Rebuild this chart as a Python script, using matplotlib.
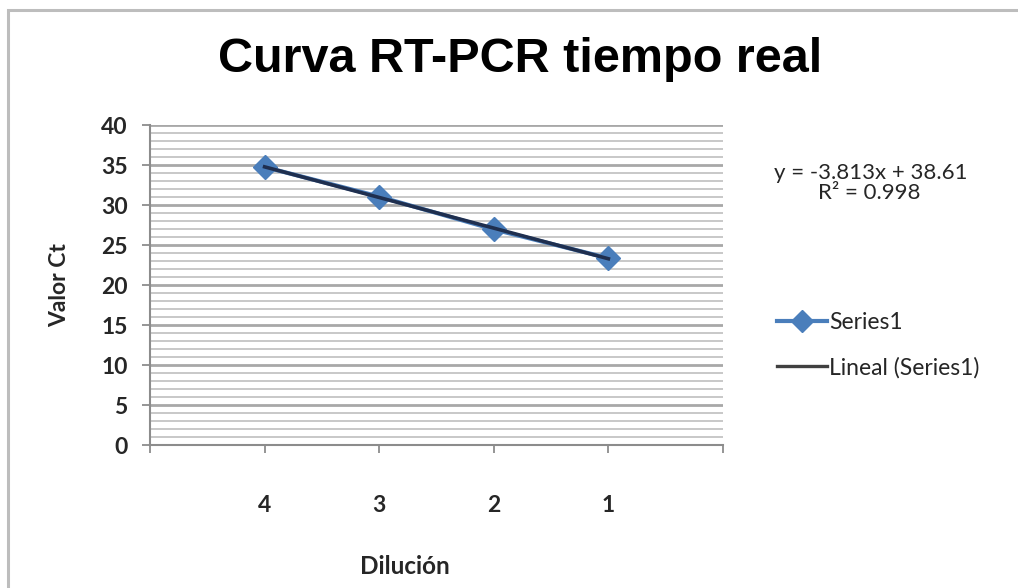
import numpy as np
import matplotlib
matplotlib.use("Agg")
import matplotlib.pyplot as plt
from matplotlib.lines import Line2D
from matplotlib.patches import Rectangle
from matplotlib.ticker import MultipleLocator

# data
dilutions = ["4", "3", "2", "1"]
ct_values = [34.75, 31.05, 26.95, 23.35]
eq_text = "y = -3.813x + 38.61"
r2_text = "R² = 0.998"

blue = "#4a7ebb"
dark = "#1f2f4f"
txt = "#262626"
lbl_font = ["Lato", "DejaVu Sans"]

fig = plt.figure(figsize=(10.18, 5.88), dpi=100)
fig.patch.set_facecolor("white")

# chart area border (cropped on right/bottom)
fig.patches.append(Rectangle((8 / 1018, -0.05), 1.1, 1 - 10 / 588 + 0.05,
                             transform=fig.transFigure, fill=False,
                             edgecolor="#bdbdbd", linewidth=2.2))

ax = fig.add_axes([150 / 1018, 1 - 445 / 588, 573 / 1018, 320 / 588])

x = np.arange(1, len(ct_values) + 1)
ax.plot(x, ct_values, color=blue, linewidth=3, marker="D", markersize=12,
        markerfacecolor=blue, markeredgecolor=blue, zorder=3)

# linear trend line over the series
coef = np.polyfit(x, ct_values, 1)
ax.plot(x, np.polyval(coef, x), color=dark, linewidth=2.6, zorder=4)

ax.set_xlim(0, 5)
ax.set_ylim(0, 40)
ax.set_xticks([0, 1, 2, 3, 4, 5])
ax.set_xticklabels([""] + dilutions + [""])
ax.yaxis.set_major_locator(MultipleLocator(5))
ax.yaxis.set_minor_locator(MultipleLocator(1))

ax.grid(which="major", axis="y", color="#a8a8a8", linewidth=2.0)
ax.grid(which="minor", axis="y", color="#c8c8c8", linewidth=1.4)
ax.set_axisbelow(True)

for s in ["top", "right"]:
    ax.spines[s].set_visible(False)
for s in ["left", "bottom"]:
    ax.spines[s].set_color("#8c8c8c")
    ax.spines[s].set_linewidth(1.5)

ax.tick_params(axis="y", which="major", direction="out", length=6,
               color="#8c8c8c", width=1.3, pad=10)
ax.tick_params(axis="y", which="minor", length=0)
ax.tick_params(axis="x", direction="out", length=6, color="#8c8c8c",
               width=1.3, pad=30)
for lab in ax.get_xticklabels() + ax.get_yticklabels():
    lab.set_fontfamily(lbl_font)
    lab.set_fontweight("bold")
    lab.set_fontsize(16.5)
    lab.set_color(txt)

ax.set_ylabel("Valor Ct", family=lbl_font, fontweight="bold", fontsize=16.5,
              color=txt, labelpad=22)
fig.text(405 / 1018, 1 - 567 / 588, "Dilución", family=lbl_font,
         fontweight="bold", fontsize=17.5, color=txt, ha="center", va="center")

fig.text(520 / 1018, 1 - 60 / 588, "Curva RT-PCR tiempo real",
         family=["Liberation Sans Narrow", "Liberation Sans"],
         fontweight="bold", fontsize=35, ha="center", va="center")

fig.text(871 / 1018, 1 - 173 / 588, eq_text, family=lbl_font, fontsize=16,
         color=txt, ha="center", va="center")
fig.text(869 / 1018, 1 - 193 / 588, r2_text, family=lbl_font, fontsize=16,
         color=txt, ha="center", va="center")

handles = [Line2D([], [], color=blue, linewidth=3, marker="D", markersize=11),
           Line2D([], [], color="#404040", linewidth=2.4)]
fig.legend(handles, ["Series1", "Lineal (Series1)"], loc="center left",
           bbox_to_anchor=(756 / 1018, 1 - 345 / 588), frameon=False,
           handlelength=2.2, handletextpad=0.1, labelspacing=1.05,
           prop={"family": lbl_font, "size": 16.5}, labelcolor=txt)

fig.savefig("out.png", dpi=100, facecolor="white")
